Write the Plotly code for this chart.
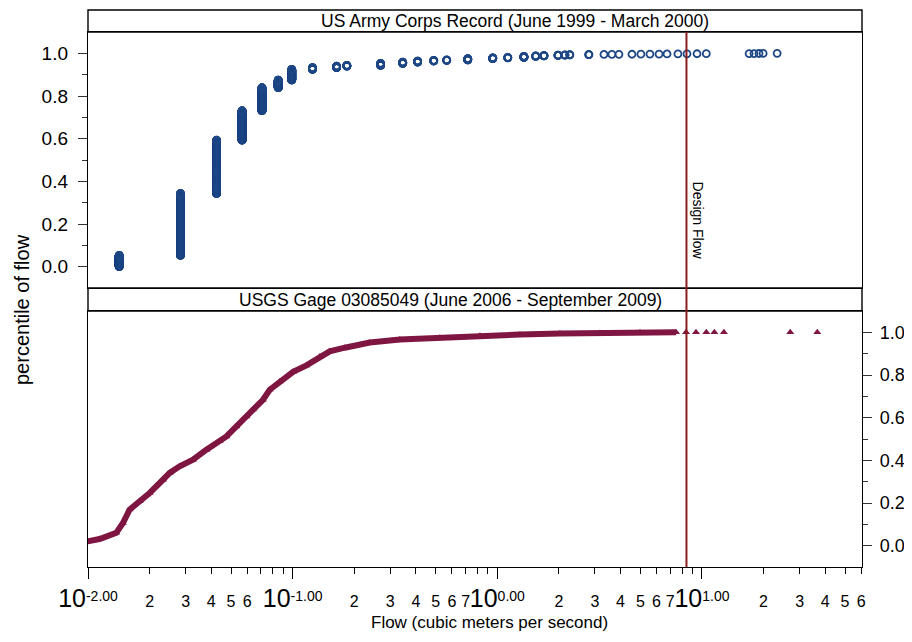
import math
import plotly.graph_objects as go

# US Army Corps record: distinct flows (m3/s) and number of records at each
army_flow = [0.0142, 0.0283, 0.0425, 0.0566, 0.0708, 0.085, 0.099,
             0.125, 0.164, 0.184, 0.269, 0.345, 0.408, 0.489, 0.566, 0.717,
             0.95, 1.125, 1.349, 1.54, 1.69, 1.98, 2.14, 2.26, 2.80,
             3.32, 3.63, 3.93, 4.55, 5.03, 5.57, 6.17, 6.75, 7.63, 8.45,
             9.46, 10.5, 17.0, 17.96, 19.0, 19.9, 23.3]
army_count = [159, 870, 750, 414, 324, 108, 150,
              24, 21, 12, 27, 18, 15, 9, 6, 18,
              12, 6, 15, 6, 6, 5, 3, 3, 3,
              1, 1, 1, 1, 1, 1, 1, 1, 1, 1,
              1, 1, 1, 1, 1, 1, 1]

# USGS gage 03085049: percentile curve
usgs_flow = [0.0099, 0.01139, 0.01375, 0.01482, 0.01597, 0.01788, 0.02001,
             0.02324, 0.02506, 0.02805, 0.03258, 0.0379, 0.044, 0.04747,
             0.05311, 0.05942, 0.06401, 0.07164, 0.07727, 0.08648, 0.1005,
             0.1168, 0.1357, 0.1518, 0.1798, 0.2382, 0.334, 0.5239, 0.8222,
             1.29, 2.023, 3.176, 4.982, 7.47]
usgs_pct = [0.020, 0.031, 0.060, 0.106, 0.169, 0.208, 0.247,
            0.309, 0.341, 0.372, 0.403, 0.450, 0.489, 0.512,
            0.559, 0.606, 0.638, 0.684, 0.731, 0.770, 0.815,
            0.845, 0.887, 0.911, 0.928, 0.952, 0.966, 0.975, 0.984,
            0.990, 0.994, 0.997, 0.999, 1.0]
usgs_tail_flow = [8.36, 9.35, 10.5, 11.5, 12.8, 27.0, 36.6]
usgs_tail_pct = [1.0, 1.0, 1.0, 1.0, 1.0, 1.0, 1.0]

design_flow = 8.4

# x tick labels
decades = [0.01, 0.1, 1, 10]
decade_text = ["-2.00", "-1.00", "0.00", "1.00"]
minor_shown = [[2, 3, 4, 5, 6], [2, 3, 4, 5, 6, 7], [2, 3, 4, 5, 6, 7], [2, 3, 4, 5, 6]]

BLUE = "#1e4785"
MAROON = "#7f1541"
RED = "#8b1c1c"
NARROW = "Liberation Sans Narrow, Arial Narrow, Liberation Sans, Arial"
ARIAL = "Liberation Sans, Arial"

# empirical percentiles for the army record
army_x, army_p = [], []
total = sum(army_count)
rank = 0
for f, c in zip(army_flow, army_count):
    for i in range(c):
        rank += 1
        army_x.append(f)
        army_p.append(rank / total)

tickvals, ticktext, minorvals = [], [], []
for d, txt, shown in zip(decades, decade_text, minor_shown):
    tickvals.append(d)
    ticktext.append('<span style="font-size:25px">10</span>'
                    '<sup><span style="font-size:14px">%s</span></sup>' % txt)
    for m in range(2, 10):
        if d * m > 61:
            break
        minorvals.append(d * m)
        if m in shown:
            tickvals.append(d * m)
            ticktext.append(str(m))

fig = go.Figure()
fig.add_trace(go.Scatter(x=army_x, y=army_p, mode="markers", xaxis="x2", yaxis="y2",
                         marker=dict(symbol="circle-open", size=7, color=BLUE,
                                     line=dict(width=1.8, color=BLUE))))
fig.add_trace(go.Scatter(x=usgs_flow, y=usgs_pct, mode="lines+markers",
                         line=dict(color=MAROON, width=6),
                         marker=dict(symbol="triangle-up", size=7, color=MAROON)))
fig.add_trace(go.Scatter(x=usgs_tail_flow, y=usgs_tail_pct, mode="markers",
                         marker=dict(symbol="triangle-up", size=7, color=MAROON)))
fig.add_trace(go.Scatter(x=[1], y=[2], xaxis="x3", mode="markers",
                         marker=dict(opacity=0), hoverinfo="skip"))

# the page body adds 8 px round the figure, so keep it inside the window
H = 535.0
W = 774.0
bot_top = 256 / H
top_bot = 279 / H
xr = [-2, 1.782]
yr = [-0.1, 1.1]
ytv = [0, 0.2, 0.4, 0.6, 0.8, 1.0]
ytt = ["0.0", "0.2", "0.4", "0.6", "0.8", "1.0"]

axis_common = dict(showline=True, linecolor="black", linewidth=1.4, mirror=True,
                   showgrid=False, zeroline=False, automargin=False)

fig.update_layout(
    width=896, height=626, showlegend=False,
    paper_bgcolor="white", plot_bgcolor="white",
    margin=dict(l=80, r=42, t=24, b=67, autoexpand=False),
    xaxis=dict(type="log", range=xr, domain=[0, 1], anchor="y",
               tickmode="array", tickvals=tickvals, ticktext=ticktext, tickangle=0,
               ticks="outside", ticklen=6, tickcolor="black", tickwidth=1,
               ticklabelstandoff=14,
               minor=dict(tickvals=minorvals, ticks="outside", ticklen=6,
                          tickcolor="black"),
               tickfont=dict(family=NARROW, size=16, color="black"),
               **axis_common),
    xaxis2=dict(type="log", range=xr, domain=[0, 1], anchor="y2", matches="x",
                showticklabels=False, ticks="", **axis_common),
    xaxis3=dict(type="log", range=xr, overlaying="x", anchor="y", side="bottom",
                tickmode="array", tickvals=decades, ticks="outside", ticklen=11,
                tickcolor="black", showticklabels=False, showline=False,
                showgrid=False, zeroline=False, automargin=False),
    yaxis=dict(domain=[0, bot_top], range=yr, side="right", anchor="x",
               tickmode="array", tickvals=ytv, ticktext=ytt,
               ticks="outside", ticklen=9, tickcolor="#333", ticklabelstandoff=4,
               minor=dict(tickvals=[0.1, 0.3, 0.5, 0.7, 0.9], ticks="outside",
                          ticklen=5, tickcolor="#333"),
               tickfont=dict(family=ARIAL, size=18, color="black"),
               **axis_common),
    yaxis2=dict(domain=[top_bot, 1], range=yr, side="left", anchor="x2",
                tickmode="array", tickvals=ytv, ticktext=ytt,
                ticks="outside", ticklen=9, tickcolor="#333", ticklabelstandoff=6,
                minor=dict(tickvals=[0.1, 0.3, 0.5, 0.7, 0.9], ticks="outside",
                           ticklen=5, tickcolor="#333"),
                tickfont=dict(family=ARIAL, size=19, color="black"),
                **axis_common),
)

# strip boxes
fig.add_shape(type="rect", xref="paper", yref="paper", x0=0, x1=1, y0=1, y1=1 + 22 / H,
              line=dict(color="black", width=1.4))
fig.add_shape(type="rect", xref="paper", yref="paper", x0=0, x1=1, y0=bot_top, y1=top_bot,
              line=dict(color="black", width=1.4))
# design flow
fig.add_shape(type="line", xref="x", yref="paper", x0=design_flow, x1=design_flow,
              y0=0, y1=1, line=dict(color=RED, width=2))

fig.add_annotation(text="US Army Corps Record (June 1999 - March 2000)",
                   xref="paper", yref="paper", x=(515 - 88) / W, y=1 + 11 / H,
                   xanchor="center", yanchor="middle", showarrow=False,
                   font=dict(family=NARROW, size=17.5, color="black"))
fig.add_annotation(text="USGS Gage 03085049 (June 2006 - September 2009)",
                   xref="paper", yref="paper", x=(450 - 88) / W, y=(bot_top + top_bot) / 2,
                   xanchor="center", yanchor="middle", showarrow=False,
                   font=dict(family=NARROW, size=17.5, color="black"))
fig.add_annotation(text="Design Flow", xref="x", yref="paper", x=math.log10(design_flow),
                   xshift=12, y=(567 - 221) / H, textangle=90, showarrow=False,
                   xanchor="center", yanchor="middle",
                   font=dict(family=ARIAL, size=14, color="black"))
fig.add_annotation(text="percentile of flow", xref="paper", yref="paper",
                   x=(22 - 88) / W, y=(567 - 310) / H, textangle=-90, showarrow=False,
                   xanchor="center", yanchor="middle",
                   font=dict(family=ARIAL, size=20, color="black"))
fig.add_annotation(text="Flow (cubic meters per second)", xref="paper", yref="paper",
                   x=(489 - 88) / W, y=-(633 - 567) / H, showarrow=False,
                   xanchor="center", yanchor="bottom", borderpad=0,
                   font=dict(family=NARROW, size=17, color="black"))

fig.write_html("out.html")
